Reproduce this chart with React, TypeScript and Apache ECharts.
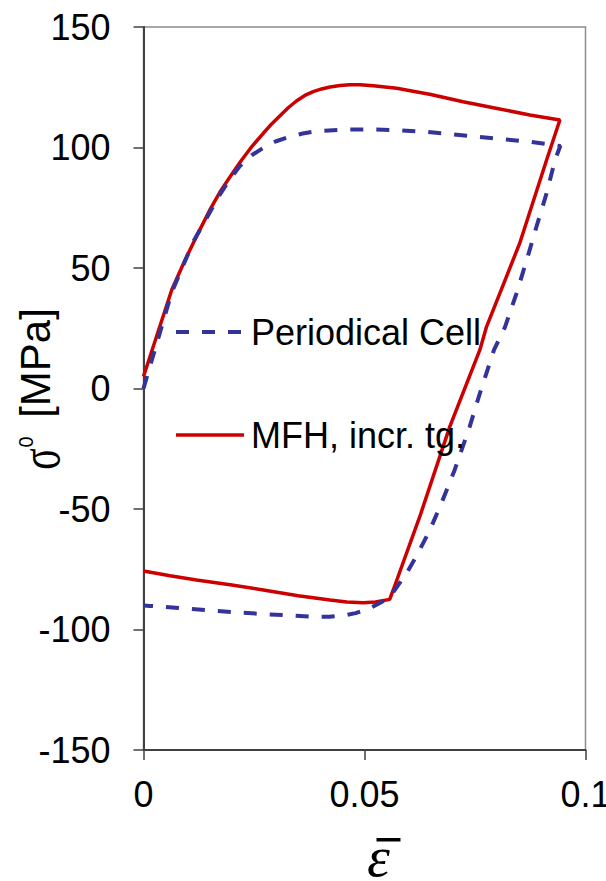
import React, { useEffect, useRef } from "react";
import * as echarts from "echarts";

const yTicks = [-150, -100, -50, 0, 50, 100, 150];
const xTicks = [0, 0.05, 0.1];

const seriesNames = ["Periodical Cell", "MFH, incr. tg."];

// Periodical Cell (dashed blue): [strain, stress]
const periodicalCell: [number, number][] = [
  [0, 0], [0.0064, 40], [0.0113, 61], [0.0145, 71.5], [0.0173, 80.5], [0.0196, 87],
  [0.0218, 92.3], [0.0245, 96.8], [0.0271, 99.9], [0.030, 102.6], [0.0331, 104.5],
  [0.036, 105.8], [0.0392, 106.8], [0.045, 107.4],
  [0.0512, 107.5], [0.057, 107.2], [0.0633, 106.6], [0.0753, 104.5], [0.0874, 102.4],
  [0.0943, 100.6],
  [0.0931, 94.8], [0.0912, 81], [0.0889, 67.1], [0.0867, 53.3], [0.0844, 39.5],
  [0.0818, 25.6], [0.0793, 16], [0.0761, -2], [0.0738, -15.8], [0.0704, -33.8],
  [0.0674, -47.6], [0.0648, -58.7], [0.0621, -68.4], [0.0595, -76.7], [0.0565, -84.5],
  [0.054, -88.5], [0.0512, -91.2], [0.048, -93.2], [0.0452, -94.2], [0.042, -94.7],
  [0.0384, -94.7], [0.0271, -93.6], [0.0158, -92.2], [0.0015, -90.2], [0, -90],
];

// MFH, incremental tangent (solid red)
const mfhIncrTg: [number, number][] = [
  [0, 5], [0.0064, 41], [0.0094, 53.3], [0.0125, 65], [0.0150, 74.1], [0.0173, 81.5],
  [0.0196, 87.9], [0.022, 94.3], [0.0246, 100.6], [0.0271, 105.9], [0.029, 109.8],
  [0.031, 113.4], [0.0328, 116.6], [0.0346, 119.3], [0.0365, 121.6], [0.0384, 123.2],
  [0.0403, 124.3], [0.0422, 125.1], [0.0445, 125.7], [0.0467, 126], [0.049, 126],
  [0.052, 125.6], [0.0573, 124.6], [0.065, 122],
  [0.0723, 119], [0.08, 116.2], [0.0874, 113.5], [0.0942, 111.4],
  [0.0912, 94.8], [0.0851, 60.2], [0.0776, 25.6], [0.0761, 16], [0.0693, -15.8],
  [0.0625, -53.2], [0.0565, -83.6], [0.0557, -87.5],
  [0.0525, -88.6], [0.0497, -88.9], [0.046, -88.6], [0.0422, -87.8], [0.035, -86],
  [0.0271, -83.6], [0.02, -81.5], [0.012, -79.5], [0.006, -77.7], [0, -75.7],
];

const FONT = "'Liberation Sans', Arial, sans-serif";
const SERIF = "'Liberation Serif', 'Times New Roman', serif";

function rotText(text: string, x: number, y: number, size: number, family: string, sx = 1, sy = 1) {
  return {
    type: "text",
    x,
    y,
    rotation: Math.PI / 2,
    scaleX: sx,
    scaleY: sy,
    style: {
      text,
      fontSize: size,
      fontFamily: family,
      fill: "#000",
      align: "center",
      verticalAlign: "middle",
      textAlign: "center",
      textVerticalAlign: "middle",
    },
  };
}

export default function App() {
  const ref = useRef<HTMLDivElement>(null);
  useEffect(() => {
    if (!ref.current) return;
    const chart = echarts.init(ref.current, null, { renderer: "svg" });
    chart.setOption({
      animation: false,
      backgroundColor: "#ffffff",
      grid: {
        left: 143.5,
        right: 20.5,
        top: 27,
        bottom: 131,
        containLabel: false,
        outerBoundsMode: "none",
        show: true,
        borderColor: "#8c8c8c",
        borderWidth: 1.5,
        backgroundColor: "transparent",
      },
      legend: {
        orient: "vertical",
        left: 174,
        top: 314,
        padding: 0,
        itemWidth: 68,
        itemHeight: 14,
        itemGap: 67,
        itemStyle: { opacity: 0 },
        data: [
          { name: seriesNames[0], lineStyle: { color: "#333399", width: 4, type: [13, 13] } },
          { name: seriesNames[1], lineStyle: { color: "#cc0000", width: 3.5 } },
        ],
        textStyle: { fontSize: 36, fontFamily: FONT, color: "#000", lineHeight: 36, padding: [0, 0, 0, 2] },
      },
      xAxis: {
        type: "value",
        min: xTicks[0],
        max: xTicks[xTicks.length - 1],
        interval: 0.05,
        axisLine: { show: true, onZero: false, lineStyle: { color: "#404040", width: 2 } },
        axisTick: { show: true, inside: false, length: 10, lineStyle: { color: "#404040", width: 1.5 } },
        axisLabel: { fontSize: 36, fontFamily: FONT, color: "#000", margin: 26, hideOverlap: false },
        splitLine: { show: false },
      },
      yAxis: {
        type: "value",
        min: yTicks[0],
        max: yTicks[yTicks.length - 1],
        interval: 50,
        axisLine: { show: true, onZero: false, lineStyle: { color: "#404040", width: 2 } },
        axisTick: { show: true, inside: false, length: 10, lineStyle: { color: "#404040", width: 1.5 } },
        axisLabel: { fontSize: 36, fontFamily: FONT, color: "#000", margin: 33 },
        splitLine: { show: false },
      },
      graphic: [
        rotText("[MPa]", 35, 363, 42, FONT),
        rotText("σ", 39.5, 459, 44, SERIF, 0.9, 1.3),
        rotText("0", 25.5, 442, 20, FONT),
        {
          type: "text",
          left: 367,
          top: 827,
          style: { text: "ε", fontSize: 58, fontFamily: SERIF, fontStyle: "italic", fill: "#000" },
        },
        {
          type: "rect",
          left: 376.5,
          top: 838,
          shape: { width: 24, height: 3.5 },
          style: { fill: "#000" },
        },
      ],
      series: [
        {
          name: seriesNames[0],
          type: "line",
          data: periodicalCell,
          symbol: "none",
          symbolSize: 0,
          lineStyle: { color: "#333399", width: 4, type: [13, 13] },
          itemStyle: { color: "#333399" },
          z: 3,
        },
        {
          name: seriesNames[1],
          type: "line",
          data: mfhIncrTg,
          symbol: "none",
          symbolSize: 0,
          lineStyle: { color: "#cc0000", width: 3.5 },
          itemStyle: { color: "#cc0000" },
          z: 2,
        },
      ],
    });
    return () => chart.dispose();
  }, []);
  return <div ref={ref} style={{ width: 606, height: 881, position: "absolute", left: 0, top: 0 }} />;
}
